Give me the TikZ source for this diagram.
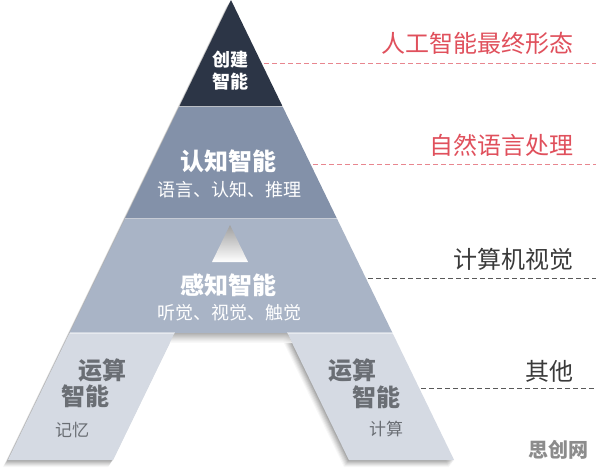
\documentclass[tikz,border=0pt]{standalone}
\usepackage{fontspec}
\setmainfont{Noto Sans CJK SC}
\definecolor{navy}{HTML}{2C3546}
\definecolor{bandtwo}{HTML}{8391A9}
\definecolor{bandthree}{HTML}{A9B4C6}
\definecolor{legfill}{HTML}{D5DAE3}
\definecolor{legtext}{HTML}{6A6E74}
\definecolor{redtext}{HTML}{E0505C}
\definecolor{reddash}{HTML}{E8868F}
\definecolor{darktext}{HTML}{3A3A3A}
\definecolor{wmark}{HTML}{8C8C8C}
\begin{document}
\begin{tikzpicture}[x=1pt,y=-1pt,
  big/.style={font=\fontsize{24}{26}\selectfont\bfseries, inner sep=0pt},
  small/.style={font=\fontsize{18}{20}\selectfont, inner sep=0pt},
  side/.style={font=\fontsize{24}{26}\selectfont, inner sep=0pt, anchor=east},
  leader/.style={line width=1pt, dash pattern=on 5pt off 3pt}]
\useasboundingbox (0,0) rectangle (596,469);
\fill[white] (0,0) rectangle (596,469);
% soft shadow
\foreach \d/\o in {1/0.08,2/0.07,3/0.06,4/0.055,5/0.05,6/0.04,7/0.03}
  \fill[black,opacity=\o,shift={(-0.7*\d,\d)}] (231,0) -- (454.1,460) -- (348.9,460) -- (287.3,333) -- (174.7,333) -- (113.1,460) -- (7.9,460) -- cycle;
% bands
\fill[navy] (231,0) -- (282.6,106.5) -- (179.4,106.5) -- cycle;
\fill[bandtwo] (179.4,106.5) -- (282.6,106.5) -- (336.9,218.5) -- (125.1,218.5) -- cycle;
\fill[bandthree] (125.1,218.5) -- (336.9,218.5) -- (392.5,333) -- (69.5,333) -- cycle;
\fill[legfill] (69.5,333) -- (174.7,333) -- (113.1,460) -- (7.9,460) -- cycle;
\fill[legfill] (287.3,333) -- (392.5,333) -- (454.1,460) -- (348.9,460) -- cycle;
% separators
\draw[white,opacity=0.55,line width=1.2pt] (179.4,106.5) -- (282.6,106.5);
\draw[white,opacity=0.45,line width=1.2pt] (125.1,218.5) -- (336.9,218.5);
\draw[white,opacity=0.45,line width=1.2pt] (69.5,333) -- (174.7,333) (287.3,333) -- (392.5,333);
% hole
\shade[top color=gray!75,bottom color=white] (230,225) -- (248,262) -- (212,262) -- cycle;
% gap shadow under band
\shade[top color=black!30,bottom color=white,opacity=0.8] (174.7,333) -- (287.3,333) -- (292.2,343) -- (169.8,343) -- cycle;
% texts in pyramid
\node[big,white,font=\fontsize{18}{20}\selectfont\bfseries] (cj1) at (230,60) {创建};
\node[big,white,font=\fontsize{18}{20}\selectfont\bfseries] (cj2) at (230,82) {智能};
\node[big,white] (rz) at (228,161) {认知智能};
\node[small,white] (rzs) at (229,190) {语言、认知、推理};
\node[big,white] (gz) at (228,285) {感知智能};
\node[small,white] (gzs) at (229,313) {听觉、视觉、触觉};
\node[big,legtext] (ys1) at (102,370) {运算};
\node[big,legtext] (zn1) at (85,396) {智能};
\node[small,legtext,font=\fontsize{17}{19}\selectfont] (jy) at (72,430) {记忆};
\node[big,legtext] (ys2) at (352,370) {运算};
\node[big,legtext] (zn2) at (376,397) {智能};
\node[small,legtext,font=\fontsize{17}{19}\selectfont] (js) at (386,429) {计算};
% side labels
\node[side,redtext] (l1) at (574,43) {人工智能最终形态};
\node[side,redtext] (l2) at (574,145) {自然语言处理};
\node[side,darktext] (l3) at (574,259) {计算机视觉};
\node[side,darktext] (l4) at (574,371) {其他};
\node[font=\fontsize{20}{22}\selectfont\bfseries, text=wmark, inner sep=0pt] (wm) at (558,450) {思创网};
% leader lines
\coordinate (a1) at (264,63);  \coordinate (b1) at (596,63);
\coordinate (a2) at (313,164); \coordinate (b2) at (596,164);
\coordinate (a3) at (368,278); \coordinate (b3) at (596,278);
\coordinate (a4) at (421,388); \coordinate (b4) at (596,388);
\draw[leader,reddash] (a1) -- (b1);
\draw[leader,reddash] (a2) -- (b2);
\draw[leader,black!65] (a3) -- (b3);
\draw[leader,black!65] (a4) -- (b4);
\end{tikzpicture}
\end{document}
